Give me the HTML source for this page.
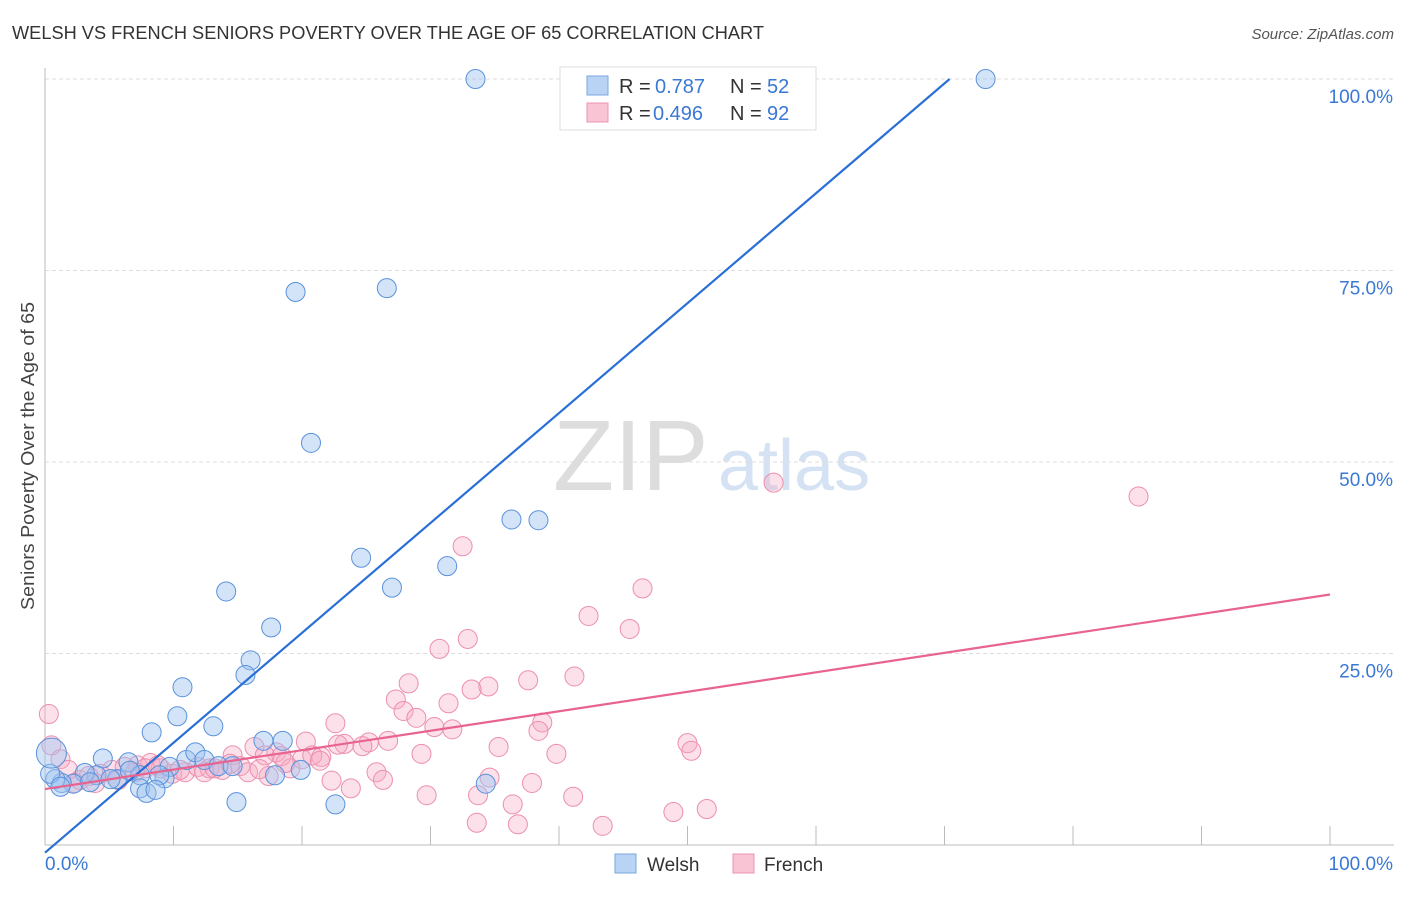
<!DOCTYPE html>
<html><head><meta charset="utf-8"><style>
body{margin:0;background:#fff;font-family:"Liberation Sans",sans-serif;}
svg text{font-family:"Liberation Sans",sans-serif;}
</style></head><body>
<svg id="chart" width="1406" height="892" xmlns="http://www.w3.org/2000/svg">
<text x="12" y="39" font-size="18" fill="#333" textLength="752" lengthAdjust="spacingAndGlyphs">WELSH VS FRENCH SENIORS POVERTY OVER THE AGE OF 65 CORRELATION CHART</text>
<text x="1394" y="39" font-size="15" fill="#555" text-anchor="end" font-style="italic">Source: ZipAtlas.com</text>
<text transform="translate(34,456) rotate(-90)" font-size="18" fill="#444" text-anchor="middle" textLength="308" lengthAdjust="spacingAndGlyphs">Seniors Poverty Over the Age of 65</text>
<text x="553" y="490" font-size="100" fill="#ddd" font-family="Liberation Serif">ZIP</text>
<text x="718" y="490" font-size="72" fill="#d4e2f4">atlas</text>
<g id="grid"></g><g id="marks"></g><g id="lines"></g>
<g>
<rect x="560" y="67" width="256" height="63" fill="#fff" stroke="#ddd"/>
<rect x="587" y="76" width="21" height="19" fill="#b9d3f5" stroke="#7aa7e0"/>
<rect x="587" y="103" width="21" height="19" fill="#f9c4d4" stroke="#ec95b0"/>
<text x="619" y="93" font-size="20" fill="#333">R =</text>
<text x="655" y="93" font-size="20" fill="#3a78d4">0.787</text>
<text x="730" y="93" font-size="20" fill="#333">N =</text>
<text x="767" y="93" font-size="20" fill="#3a78d4">52</text>
<text x="619" y="120" font-size="20" fill="#333">R =</text>
<text x="653" y="120" font-size="20" fill="#3a78d4">0.496</text>
<text x="730" y="120" font-size="20" fill="#333">N =</text>
<text x="767" y="120" font-size="20" fill="#3a78d4">92</text>
</g>
<g>
<rect x="615" y="854" width="21" height="19" fill="#b9d3f5" stroke="#7aa7e0"/>
<text x="647" y="871" font-size="19" fill="#333">Welsh</text>
<rect x="733" y="854" width="21" height="19" fill="#f9c4d4" stroke="#ec95b0"/>
<text x="764" y="871" font-size="19" fill="#333">French</text>
</g>
</svg>
<script>
const welshX=[33.5,54.2,73.2,19.5,26.6,20.7,36.3,38.4,24.6,31.3,27,14.1,17.6,16,15.6,10.7,10.3,13.1,8.3,4.5,6.5,11,11.7,12.4,13.5,14.6,9.7,17,18.5,19.9,17.9,9.3,8.9,7.4,5.6,4,3.1,2.2,1.3,0.8,0.4,7.4,7.9,14.9,22.6,34.3,3.5,5.1,6.6,8.6,1.2,0.5];
const welshY=[100,100,100,72.2,72.7,52.5,42.5,42.4,37.5,36.4,33.6,33.1,28.4,24.1,22.2,20.6,16.8,15.5,14.7,11.3,10.8,11.1,12.1,11.1,10.3,10.3,10.2,13.6,13.6,9.8,9.1,8.7,9.1,9.1,8.6,9.1,9.4,8,8.1,8.6,9.3,7.4,6.8,5.6,5.3,8,8.2,8.6,9.7,7.2,7.6,12];
const frenchX=[85.1,56.7,32.5,46.5,42.3,45.5,32.9,30.7,41.2,37.6,34.5,33.2,28.3,27.3,31.4,27.9,28.9,38.7,38.4,30.3,31.7,22.6,23.3,25.2,24.7,26.7,20.3,21.5,22.8,35.3,50,50.3,39.8,29.3,16.3,18,18.4,17.1,14.6,20,20.8,25.8,26.3,22.3,23.8,34.6,37.9,33.7,29.7,36.4,41.1,48.9,51.5,43.4,33.6,36.8,0.3,0.5,1.2,1.8,2.7,3.4,4.3,5.2,6.2,7.2,8.2,9,9.9,10.9,11.9,12.8,13.8,15.2,15.8,17.4,19.1,2.3,3.9,5.7,7,7.8,8.8,10.5,12.4,13.2,14.4,16.7,18.7,21.4];
const frenchY=[45.5,47.3,39.0,33.5,29.9,28.2,26.9,25.6,22.0,21.5,20.7,20.3,21.1,19.0,18.5,17.5,16.6,16.0,14.9,15.4,15.1,15.9,13.2,13.4,12.9,13.6,13.5,11.5,13.1,12.8,13.3,12.3,11.9,11.9,12.8,12.1,11.6,11.7,11.7,11.2,11.7,9.5,8.5,8.4,7.4,8.8,8.1,6.5,6.5,5.3,6.3,4.3,4.7,2.5,2.9,2.7,17.1,13.0,11.2,9.8,8.5,9.0,9.3,9.8,10.2,10.4,10.7,10.0,9.3,9.5,10.2,10.0,9.8,10.3,9.5,9.0,10.0,8.1,8.1,8.5,9.5,10.0,10.4,9.8,9.5,10.0,10.6,9.9,10.7,11.0];
const yTicks=[25,50,75,100];
const yTickLabels=["25.0%","50.0%","75.0%","100.0%"];
const xTicks=[0,10,20,30,40,50,60,70,80,90,100];
const welshLine=[0,-1.0,70.4,100];
const frenchLine=[0,7.3,100,32.7];
const NS="http://www.w3.org/2000/svg";
const X0=45,X1=1330,Y0=845,Y1=79;
const sx=v=>X0+(X1-X0)*v/100, sy=v=>Y0-(Y0-Y1)*v/100;
function mk(t,a,p){const e=document.createElementNS(NS,t);for(const k in a)e.setAttribute(k,a[k]);p.appendChild(e);return e;}
const grid=document.getElementById('grid');
yTicks.forEach((v,i)=>{
 const l=mk('line',{x1:X0,x2:1394,y1:sy(v),y2:sy(v),stroke:'#ddd','stroke-dasharray':'4,3'},grid);
 
 
 const t=mk('text',{x:1393,y:sy(v)+24,'font-size':19,fill:'#3a78d4','text-anchor':'end'},grid);
 t.textContent=yTickLabels[i];
 
 
});
const ax=mk('line',{x1:X0,x2:X0,y1:68,y2:Y0,stroke:'#bbb'},grid);


const bx=mk('line',{x1:X0,x2:1394,y1:Y0,y2:Y0,stroke:'#bbb'},grid);


xTicks.forEach(v=>{const l=mk('line',{x1:sx(v),x2:sx(v),y1:826,y2:Y0,stroke:'#bbb'},grid);
 
 });
const t0=mk('text',{x:45,y:870,'font-size':19,fill:'#3a78d4'},grid);t0.textContent='0.0%';


const t1=mk('text',{x:1393,y:870,'font-size':19,fill:'#3a78d4','text-anchor':'end'},grid);t1.textContent='100.0%';


const marks=document.getElementById('marks');
frenchX.forEach((x,i)=>{const c=mk('circle',{cx:sx(x),cy:sy(frenchY[i]),r:9.5,fill:'rgba(246,170,195,0.35)',stroke:'#ec8fae','stroke-width':1},marks);
 
 });
welshX.forEach((x,i)=>{const c=mk('circle',{cx:sx(x),cy:sy(welshY[i]),r:i==welshX.length-1?15:9.5,fill:'rgba(160,196,240,0.45)',stroke:'#5a92dc','stroke-width':1},marks);
 
 });
const lines=document.getElementById('lines');
const wl=mk('line',{x1:sx(welshLine[0]),y1:sy(welshLine[1]),x2:sx(welshLine[2]),y2:sy(welshLine[3]),stroke:'#2a6fd6','stroke-width':2.2},lines);


const fl=mk('line',{x1:sx(frenchLine[0]),y1:sy(frenchLine[1]),x2:sx(frenchLine[2]),y2:sy(frenchLine[3]),stroke:'#e8638f','stroke-width':2.2},lines);


</script>
</body></html>
